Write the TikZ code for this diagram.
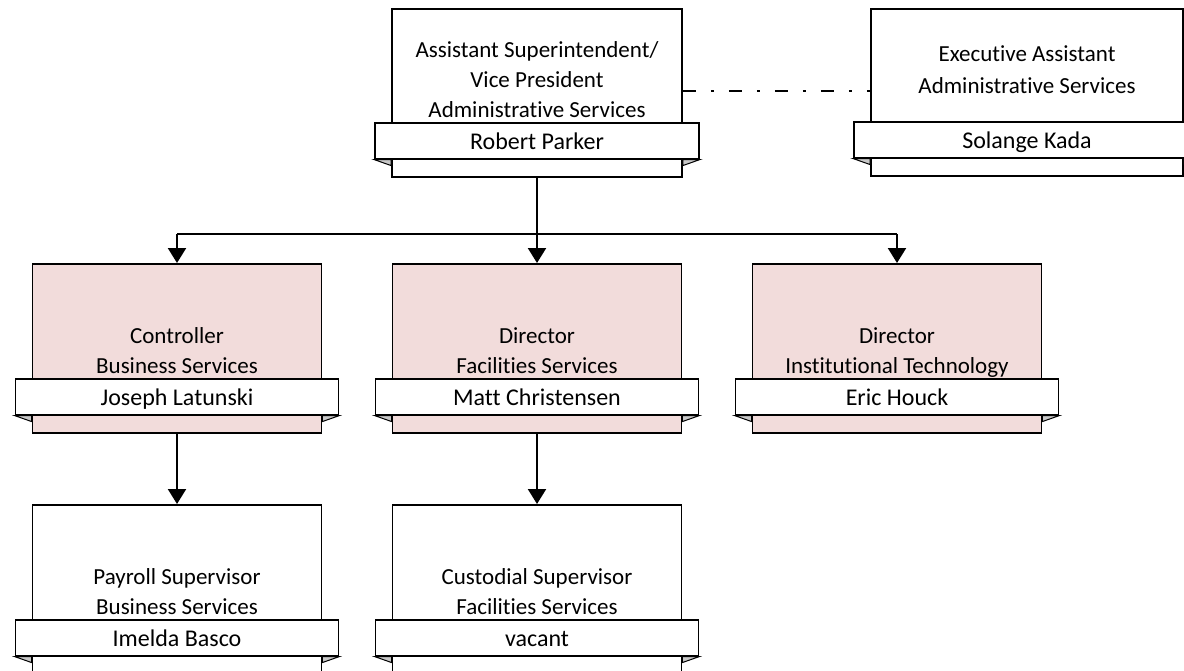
\documentclass[tikz,border=0pt]{standalone}
\usepackage{fontspec}
\setmainfont{Carlito}[Ligatures=NoCommon]
\usetikzlibrary{arrows.meta}
\definecolor{rolepink}{HTML}{F2DCDB}
\definecolor{foldgray}{HTML}{C8C8C8}
\tikzset{
  boxshape/.style={draw=black, line width=1.6pt, rectangle, inner sep=0pt},
  tabshape/.style={draw=black, fill=white, line width=1.6pt, rectangle, inner sep=0pt,
    minimum height=36pt, text height=18pt, text depth=0pt, font=\fontsize{24}{28}\selectfont},
  titletext/.style={align=center, inner sep=0pt, text depth=0pt, font=\fontsize{23}{30}\selectfont},
  foldshape/.style={draw=black, fill=foldgray, line width=1pt, line join=miter},
  link/.style={draw=black, line width=2.2pt, -{Triangle[width=18pt,length=15pt]}},
  bus/.style={draw=black, line width=2.2pt},
  assistlink/.style={draw=black, line width=2.4pt, dash pattern=on 13pt off 15pt on 3pt off 15pt}
}
% #1 name, #2 center x, #3 top y, #4 width, #5 height, #6 fill, #7 title, #8 person, #9 title lift
\newcommand\orgunit[9]{%
  \node[boxshape, fill=#6, minimum width=#4pt, minimum height=#5pt, anchor=north] (#1) at (#2,#3) {};
  \node[tabshape, minimum width=#4pt+34pt, anchor=south] (#1-tab) at ([yshift=18pt]#1.south) {#8};
  \path[foldshape] (#1-tab.south west) -- (#1-tab.south west -| #1.west) -- ([yshift=-6pt]#1-tab.south west -| #1.west) -- cycle;
  \path[foldshape] (#1-tab.south east) -- (#1-tab.south east -| #1.east) -- ([yshift=-6pt]#1-tab.south east -| #1.east) -- cycle;
  \node[titletext, anchor=south] (#1-title) at ([yshift=#9pt]#1-tab.north) {#7};
}
\begin{document}
\begin{tikzpicture}[x=1pt,y=-1pt]
\useasboundingbox (0,0) rectangle (1184,670);
\begin{scope}
\clip (0,0) rectangle (1184,670);
\orgunit{vp}{537}{8}{290}{168}{white}{Assistant Superintendent/\\Vice President\\Administrative Services}{Robert Parker}{4}
\orgunit{exec}{1027}{8}{312}{167}{white}{Executive Assistant\\[2pt]Administrative Services}{Solange Kada}{27}
\orgunit{ctrl}{177}{263}{289}{169}{rolepink}{Controller\\Business Services}{Joseph Latunski}{4}
\orgunit{fac}{537}{263}{289}{169}{rolepink}{Director\\Facilities Services}{Matt Christensen}{4}
\orgunit{it}{897}{263}{289}{169}{rolepink}{Director\\Institutional Technology}{Eric Houck}{4}
\orgunit{pay}{177}{504}{289}{169}{white}{Payroll Supervisor\\Business Services}{Imelda Basco}{4}
\orgunit{cust}{537}{504}{289}{169}{white}{Custodial Supervisor\\Facilities Services}{vacant}{4}
\end{scope}
\coordinate (busy) at (0,234);
\draw[bus] (vp.south) -- (vp.south |- busy);
\draw[bus] (ctrl.north |- busy) -- (it.north |- busy);
\draw[link] (vp.south |- busy) -- (fac.north);
\draw[link] (ctrl.north |- busy) -- (ctrl.north);
\draw[link] (it.north |- busy) -- (it.north);
\draw[link] (ctrl.south) -- (pay.north);
\draw[link] (fac.south) -- (cust.north);
\draw[assistlink] (vp.east |- 0,91) -- (exec.west |- 0,91);
\end{tikzpicture}
\end{document}
